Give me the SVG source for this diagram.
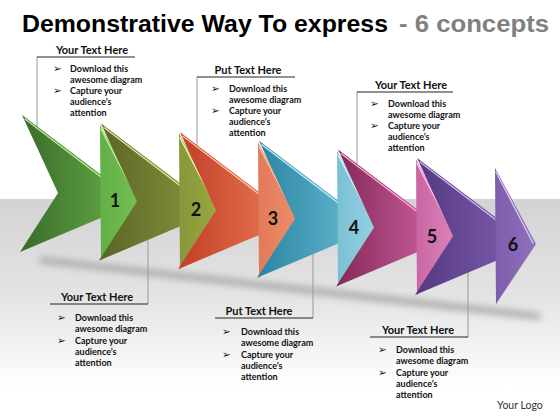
<svg xmlns="http://www.w3.org/2000/svg" width="560" height="420" viewBox="0 0 560 420">
<style>
.title{font-family:"Liberation Sans",Arial,sans-serif;font-weight:bold;font-size:23px}
.hd{font-family:Lato,"Liberation Sans",sans-serif;font-weight:bold;font-size:11px;fill:#111;text-anchor:middle}
.bt{font-family:Lato,"Liberation Sans",sans-serif;font-weight:bold;font-size:9px;fill:#111}
.bl{font-family:"DejaVu Sans",sans-serif;font-size:10.5px;fill:#111}
.num{font-family:Lato,"Liberation Sans",sans-serif;font-weight:bold;font-size:18px;fill:#111;text-anchor:middle}
.ul{stroke:#222;stroke-width:1.2;fill:none}
.vl{stroke:#999;stroke-width:1;fill:none}
.hl{stroke-width:1.3;fill:none;stroke-linecap:round}
</style>
<defs>
<linearGradient id="floor" x1="0" y1="0" x2="0" y2="1">
<stop offset="0" stop-color="#d3d3d3"/><stop offset="0.45" stop-color="#e4e4e4"/><stop offset="0.85" stop-color="#ffffff"/>
</linearGradient>
<filter id="blur" x="-10%" y="-100%" width="120%" height="300%"><feGaussianBlur stdDeviation="3.5"/></filter>
<linearGradient id="b1" x1="0" y1="0" x2="1" y2="0"><stop offset="0" stop-color="#3a6a2a"/><stop offset="1" stop-color="#5c9e40"/></linearGradient>
<linearGradient id="h1" x1="0" y1="0" x2="1" y2="0"><stop offset="0" stop-color="#62b046"/><stop offset="1" stop-color="#74c052"/></linearGradient>
<linearGradient id="b2" x1="0" y1="0" x2="1" y2="0"><stop offset="0" stop-color="#5a6428"/><stop offset="1" stop-color="#7e8a36"/></linearGradient>
<linearGradient id="h2" x1="0" y1="0" x2="1" y2="0"><stop offset="0" stop-color="#89963a"/><stop offset="1" stop-color="#9ba842"/></linearGradient>
<linearGradient id="b3" x1="0" y1="0" x2="1" y2="0"><stop offset="0" stop-color="#c03e28"/><stop offset="1" stop-color="#e26c4a"/></linearGradient>
<linearGradient id="h3" x1="0" y1="0" x2="1" y2="0"><stop offset="0" stop-color="#e27a58"/><stop offset="1" stop-color="#ee8e6c"/></linearGradient>
<linearGradient id="b4" x1="0" y1="0" x2="1" y2="0"><stop offset="0" stop-color="#2a84a2"/><stop offset="1" stop-color="#5aafc7"/></linearGradient>
<linearGradient id="h4" x1="0" y1="0" x2="1" y2="0"><stop offset="0" stop-color="#7ac0d4"/><stop offset="1" stop-color="#98d2e2"/></linearGradient>
<linearGradient id="b5" x1="0" y1="0" x2="1" y2="0"><stop offset="0" stop-color="#842858"/><stop offset="1" stop-color="#c05692"/></linearGradient>
<linearGradient id="h5" x1="0" y1="0" x2="1" y2="0"><stop offset="0" stop-color="#c966a4"/><stop offset="1" stop-color="#de84ba"/></linearGradient>
<linearGradient id="b6" x1="0" y1="0" x2="1" y2="0"><stop offset="0" stop-color="#553880"/><stop offset="1" stop-color="#7456a6"/></linearGradient>
<linearGradient id="h6" x1="0" y1="0" x2="1" y2="0"><stop offset="0" stop-color="#7c5cac"/><stop offset="1" stop-color="#9172be"/></linearGradient>
<polygon id="body" points="0,0 82,62 81,102 -2,137 36,78"/>
<polygon id="head" points="78,10 119,86 79,146"/>
</defs>

<rect x="0" y="0" width="560" height="420" fill="#ffffff"/>
<rect x="0" y="199" width="560" height="221" fill="url(#floor)"/>
<polygon points="40,257 540,313 540,320 40,263" fill="#555" opacity="0.4" filter="url(#blur)"/>

<text class="title" x="22" y="32" textLength="366" lengthAdjust="spacingAndGlyphs" fill="#000">Demonstrative Way To express</text>
<text class="title" x="399" y="32" textLength="150" lengthAdjust="spacingAndGlyphs" fill="#808080">- 6 concepts</text>

<g id="connectors">
<line class="vl" x1="37" y1="57" x2="37" y2="128"/>
<line class="vl" x1="197" y1="77" x2="197" y2="146"/>
<line class="vl" x1="357" y1="92" x2="357" y2="164"/>
<line class="vl" x1="148" y1="238" x2="148" y2="304"/>
<line class="vl" x1="313" y1="252" x2="313" y2="318"/>
<line class="vl" x1="468" y1="270" x2="468" y2="337"/>
<line class="ul" x1="37" y1="57" x2="135" y2="57"/>
<line class="ul" x1="197" y1="77" x2="295" y2="77"/>
<line class="ul" x1="357" y1="92" x2="453" y2="92"/>
<line class="ul" x1="50" y1="304" x2="148" y2="304"/>
<line class="ul" x1="215" y1="318" x2="313" y2="318"/>
<line class="ul" x1="370" y1="337" x2="468" y2="337"/>
</g>

<g id="arrow1" transform="translate(22,115)">
<use href="#body" fill="url(#b1)"/>
<line class="hl" x1="3" y1="4" x2="79" y2="62" stroke="#c4ec9c"/>
<use href="#head" fill="url(#h1)"/>
<line class="hl" x1="79" y1="14" x2="116" y2="85" stroke="#c8f4a0"/>
<text class="num" x="93" y="92">1</text>
</g>
<g id="arrow2" transform="translate(101,123.6)">
<use href="#body" fill="url(#b2)"/>
<line class="hl" x1="3" y1="4" x2="79" y2="62" stroke="#e4ec9c"/>
<use href="#head" fill="url(#h2)"/>
<line class="hl" x1="79" y1="14" x2="116" y2="85" stroke="#eef4a8"/>
<text class="num" x="95" y="92.4">2</text>
</g>
<g id="arrow3" transform="translate(180,132.2)">
<use href="#body" fill="url(#b3)"/>
<line class="hl" x1="3" y1="4" x2="79" y2="62" stroke="#ffc0a6"/>
<use href="#head" fill="url(#h3)"/>
<line class="hl" x1="79" y1="14" x2="116" y2="85" stroke="#ffc8b0"/>
<text class="num" x="93" y="92.8">3</text>
</g>
<g id="arrow4" transform="translate(259,140.8)">
<use href="#body" fill="url(#b4)"/>
<line class="hl" x1="3" y1="4" x2="79" y2="62" stroke="#c4eefc"/>
<use href="#head" fill="url(#h4)"/>
<line class="hl" x1="79" y1="14" x2="116" y2="85" stroke="#d6f4ff"/>
<text class="num" x="95" y="93.2">4</text>
</g>
<g id="arrow5" transform="translate(338,149.4)">
<use href="#body" fill="url(#b5)"/>
<line class="hl" x1="3" y1="4" x2="79" y2="62" stroke="#ffaedc"/>
<use href="#head" fill="url(#h5)"/>
<line class="hl" x1="79" y1="14" x2="116" y2="85" stroke="#ffc0e6"/>
<text class="num" x="94" y="93.6">5</text>
</g>
<g id="arrow6" transform="translate(417,158)">
<use href="#body" fill="url(#b6)"/>
<line class="hl" x1="3" y1="4" x2="79" y2="62" stroke="#ccbcf0"/>
<use href="#head" fill="url(#h6)"/>
<line class="hl" x1="79" y1="14" x2="116" y2="85" stroke="#d8caf6"/>
<text class="num" x="96" y="93">6</text>
</g>

<g id="callout-top1">
<text class="hd" x="92" y="54">Your Text Here</text>
<text class="bl" x="53" y="72">➢</text><text class="bt" x="70" y="72">Download this</text>
<text class="bt" x="70" y="83">awesome diagram</text>
<text class="bl" x="53" y="94">➢</text><text class="bt" x="70" y="94">Capture your</text>
<text class="bt" x="70" y="105">audience’s</text>
<text class="bt" x="70" y="116">attention</text>
</g>
<g id="callout-top2">
<text class="hd" x="248" y="74">Put Text Here</text>
<text class="bl" x="211" y="92">➢</text><text class="bt" x="229" y="92">Download this</text>
<text class="bt" x="229" y="103">awesome diagram</text>
<text class="bl" x="211" y="114">➢</text><text class="bt" x="229" y="114">Capture your</text>
<text class="bt" x="229" y="125">audience’s</text>
<text class="bt" x="229" y="136">attention</text>
</g>
<g id="callout-top3">
<text class="hd" x="411" y="89">Your Text Here</text>
<text class="bl" x="370" y="107">➢</text><text class="bt" x="388" y="107">Download this</text>
<text class="bt" x="388" y="118">awesome diagram</text>
<text class="bl" x="370" y="129">➢</text><text class="bt" x="388" y="129">Capture your</text>
<text class="bt" x="388" y="140">audience’s</text>
<text class="bt" x="388" y="151">attention</text>
</g>
<g id="callout-bot1">
<text class="hd" x="97" y="301">Your Text Here</text>
<text class="bl" x="57" y="321">➢</text><text class="bt" x="75" y="321">Download this</text>
<text class="bt" x="75" y="332">awesome diagram</text>
<text class="bl" x="57" y="343.5">➢</text><text class="bt" x="75" y="343.5">Capture your</text>
<text class="bt" x="75" y="355">audience’s</text>
<text class="bt" x="75" y="366">attention</text>
</g>
<g id="callout-bot2">
<text class="hd" x="259" y="315">Put Text Here</text>
<text class="bl" x="222" y="335">➢</text><text class="bt" x="241" y="335">Download this</text>
<text class="bt" x="241" y="346">awesome diagram</text>
<text class="bl" x="222" y="357.5">➢</text><text class="bt" x="241" y="357.5">Capture your</text>
<text class="bt" x="241" y="369">audience’s</text>
<text class="bt" x="241" y="380">attention</text>
</g>
<g id="callout-bot3">
<text class="hd" x="418" y="334">Your Text Here</text>
<text class="bl" x="378" y="353">➢</text><text class="bt" x="396" y="353">Download this</text>
<text class="bt" x="396" y="364">awesome diagram</text>
<text class="bl" x="378" y="375.5">➢</text><text class="bt" x="396" y="375.5">Capture your</text>
<text class="bt" x="396" y="387">audience’s</text>
<text class="bt" x="396" y="398">attention</text>
</g>
<text id="logo" x="497" y="409" font-family="Lato,'Liberation Sans',sans-serif" font-size="10.5" fill="#333">Your Logo</text>
</svg>
